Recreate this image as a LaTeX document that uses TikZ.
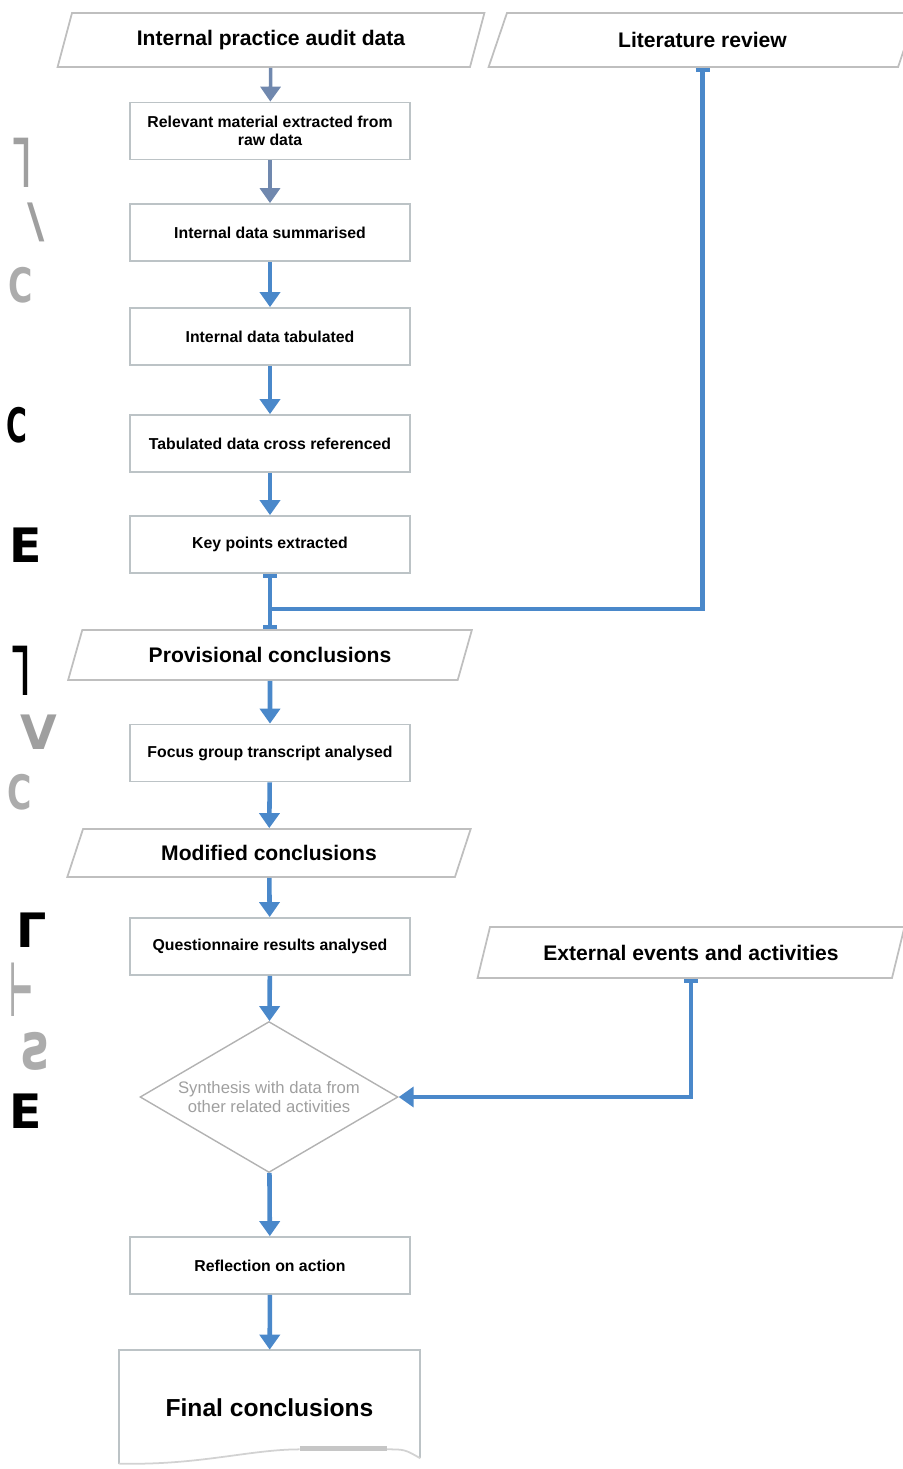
\documentclass[tikz,border=0pt]{standalone}
\usepackage{fontspec}
\setmainfont{Liberation Sans}
\newfontfamily\glyphfont{DejaVu Sans}
\usepackage{xcolor}
\usepackage{tikz}
\usetikzlibrary{arrows.meta,positioning,shapes.geometric,calc}

\definecolor{flowblue}{HTML}{4A88CA}
\definecolor{fadeblue}{HTML}{7088AE}
\definecolor{boxgray}{HTML}{BCC3C6}

\begin{document}
\begin{tikzpicture}[
    x=0.02cm, y=-0.02cm,
    every node/.style = {align=center},
    box/.style    = {draw=boxgray, line width=1pt, rectangle, minimum width=5.6cm,
                     minimum height=1.14cm, inner sep=2pt,
                     font=\fontsize{9}{10.5}\selectfont\bfseries},
    data/.style   = {draw=gray!50, line width=1pt, trapezium, trapezium stretches=true,
                     trapezium left angle=67, trapezium right angle=113,
                     minimum width=8.56cm, minimum height=1.08cm, inner sep=1pt,
                     font=\fontsize{12}{14}\selectfont\bfseries},
    concl/.style  = {data, trapezium left angle=64, trapezium right angle=116,
                     minimum width=8.08cm, minimum height=1cm},
    decision/.style = {draw=gray!60, line width=0.8pt, diamond, aspect=1.71,
                     minimum width=5.16cm, minimum height=3.02cm, inner sep=0pt,
                     text=gray!75, font=\fontsize{9.5}{11}\selectfont},
    doc/.style    = {rectangle, minimum width=6.02cm, minimum height=2.3cm,
                     font=\fontsize{14}{16}\selectfont\bfseries},
    docedge/.style = {draw=boxgray, line width=1pt},
    link/.style   = {draw=flowblue, line width=2.6pt},
    arr/.style    = {link, -{Triangle[width=0.4cm,length=0.3cm]}},
    faint/.style  = {arr, draw=fadeblue, fill=fadeblue, line width=2pt},
    frag/.style   = {inner sep=0pt, font=\glyphfont\fontsize{27}{27}\selectfont\bfseries},
]
\useasboundingbox (0,0) rectangle (902,1469);

% ---------------- Sources ----------------
\node[data] (in1) at (271,40)    {Internal practice audit data};
\node[data] (lit) at (702.5,40)  {Literature review};

% ---------------- Internal data ----------------
\node[box] (rel)   at (270,131)   {Relevant material extracted from\\raw data};
\node[box] (sum)   at (270,232.5) {Internal data summarised};
\node[box] (tab)   at (270,336.5) {Internal data tabulated};
\node[box] (cross) at (270,443.5) {Tabulated data cross referenced};
\node[box] (key)   at (270,544.5) {Key points extracted};

% ---------------- Conclusions ----------------
\node[concl] (prov)  at (270,655)   {Provisional conclusions};
\node[box]   (focus) at (270,753)   {Focus group transcript analysed};
\node[concl, minimum height=0.96cm] (mod) at (269,853) {Modified conclusions};
\node[box]   (quest) at (270,946.5) {Questionnaire results analysed};
\node[data, trapezium left angle=64, trapezium right angle=116,
      minimum height=1.02cm] (ext) at (691,952.5) {External events and activities};

\node[decision] (syn) at (269,1097) {Synthesis with data from\\other related activities};
\node[box] (refl) at (270,1265.5) {Reflection on action};

% ---------------- Output ----------------
\node[doc] (final) at (269.5,1407.5) {Final conclusions};
\draw[docedge] ([yshift=1pt]final.south west) -- (final.north west)
    -- (final.north east) -- ([yshift=4pt]final.south east);
\draw[docedge, draw=gray!35] ([yshift=1pt]final.south west)
    .. controls +(80,2) and +(-50,0) .. ($(final.south west)+(181,-16)$);
\draw[docedge, draw=gray!35] ($(final.south west)+(268,-16)$)
    .. controls +(18,0) .. ([yshift=4pt]final.south east);
\draw[line width=2.5pt, draw=gray!45] ($(final.south west)+(181,-17)$) -- ++(87,0);

% ---------------- Edge fragments ----------------
\node[frag, text=gray!75, yscale=1.5]             (f1)  at (21,163)  {˥};
\node[frag, text=gray!75]                         (f2)  at (36,222)  {\textbackslash};
\node[frag, text=gray!65, xscale=0.7]             (f3)  at (21,285)  {C};
\node[frag, xscale=0.6]                           (f4)  at (17,425)  {C};
\node[frag]                                       (f5)  at (26,545)  {E};
\node[frag, yscale=1.5]                           (f6)  at (20,671)  {˥};
\node[frag, text=gray!75]                         (f7)  at (39,732)  {V};
\node[frag, text=gray!65, xscale=0.7]             (f8)  at (20,792)  {C};
\node[frag]                                       (f9)  at (32,930)  {Γ};
\node[frag, text=gray!65, xscale=0.55, yscale=1.6] (f10) at (21,990)  {⊢};
\node[frag, text=gray!65, yscale=1.4]             (f11) at (37,1051) {ƨ};
\node[frag]                                       (f12) at (26,1111) {E};

% ---------------- Arrows ----------------
\draw[faint] (in1) -- (rel);
\draw[faint] (rel) -- (sum);
\draw[arr] (sum) -- (tab);
\draw[arr] (tab) -- (cross);
\draw[arr] (cross) -- (key);

\coordinate (join) at ($(key.south)+(0,35)$);
\draw[link, {Bar[width=0.28cm]}-{Bar[width=0.28cm]}] (key) -- (key |- prov.north);
\draw[link, {Bar[width=0.28cm]}-] (lit) |- (join);

\draw[arr] (prov) -- (focus);
\draw[arr] (focus) -- (mod);
\draw[arr] (mod) -- (quest);
\draw[arr] (quest) -- (syn);
\draw[link, {Bar[width=0.28cm]}-{Triangle[width=0.4cm,length=0.3cm]}] (ext) |- (syn);
\draw[arr] (syn) -- (refl);
\draw[arr] (refl) -- (final);

\end{tikzpicture}
\end{document}
